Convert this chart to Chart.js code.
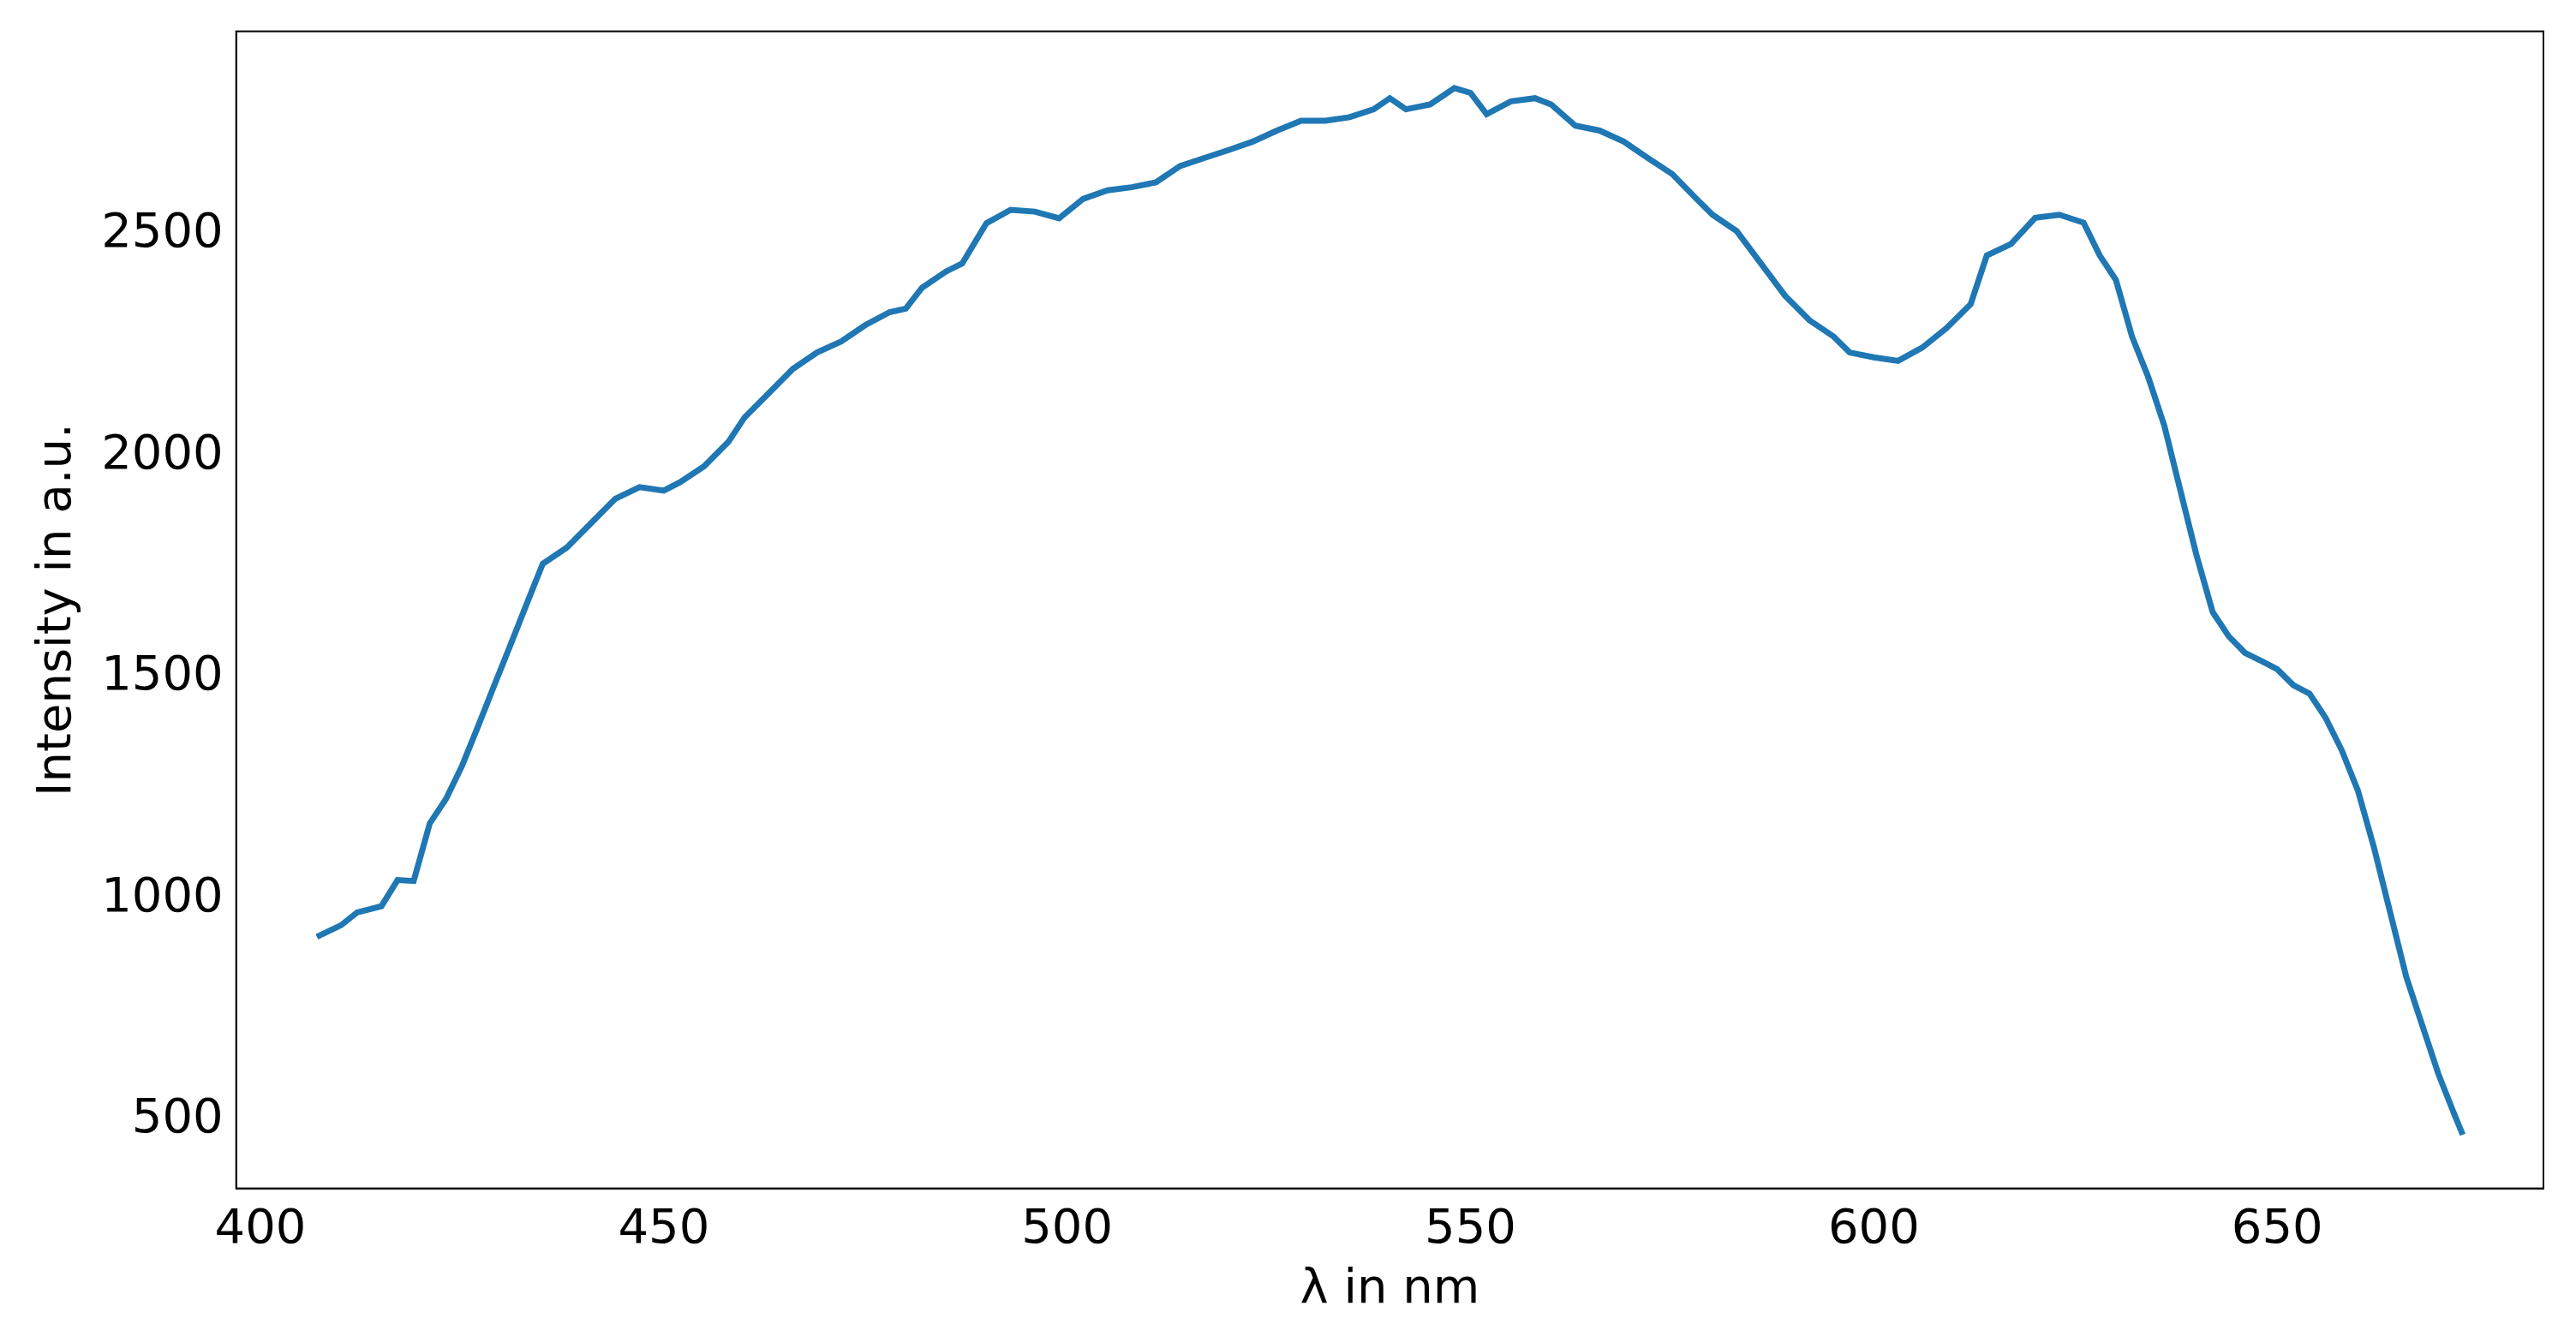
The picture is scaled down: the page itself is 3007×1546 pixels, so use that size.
<!DOCTYPE html>
<html>
<head>
<meta charset="utf-8">
<script src="https://cdn.jsdelivr.net/npm/chart.js@4/dist/chart.umd.min.js"></script>
<style>
  html, body { margin: 0; padding: 0; background: #fff; }
  #wrap { width: 3007px; height: 1546px; }
</style>
</head>
<body>
<div id="wrap"><canvas id="spectrum"></canvas></div>
<script>
document.addEventListener("DOMContentLoaded", function() {
    'use strict';

    // wavelength in nm
    var wavelengths = [407, 410, 412, 415, 417, 419, 421, 423, 425, 427, 429, 431, 433, 435, 438, 441, 444, 447, 450, 452,
        455, 458, 460, 463, 466, 469, 472, 475, 478, 480, 482, 485, 487, 490, 493, 496, 499, 502, 505, 508,
        511, 514, 517, 520, 523, 526, 529, 532, 535, 538, 540, 542, 545, 548, 550, 552, 555, 558, 560, 563,
        566, 569, 572, 575, 578, 580, 583, 586, 589, 592, 595, 597, 600, 603, 606, 609, 612, 614, 617, 620,
        623, 626, 628, 630, 632, 634, 636, 638, 640, 642, 644, 646, 648, 650, 652, 654, 656, 658, 660, 662,
        664, 666, 668, 670, 672, 673];
    var intensity = [914, 940, 969, 983, 1042, 1040, 1170, 1225, 1300, 1390, 1482, 1573, 1665, 1756, 1793, 1848, 1903, 1929, 1921, 1940,
        1976, 2031, 2086, 2141, 2196, 2233, 2258, 2295, 2324, 2332, 2379, 2416, 2434, 2525, 2555, 2551, 2536, 2580, 2599, 2606,
        2617, 2654, 2672, 2690, 2709, 2734, 2756, 2756, 2764, 2782, 2807, 2782, 2793, 2830, 2819, 2771, 2800, 2807, 2793, 2745,
        2734, 2709, 2672, 2636, 2580, 2544, 2507, 2434, 2361, 2306, 2269, 2233, 2222, 2214, 2244, 2288, 2342, 2452, 2478, 2537,
        2544, 2526, 2452, 2397, 2269, 2178, 2068, 1921, 1775, 1647, 1592, 1555, 1537, 1518, 1482, 1463, 1408, 1335, 1244, 1115,
        969, 823, 713, 603, 511, 467];
    var xTicks = [400, 450, 500, 550, 600, 650];
    var yTicks = [500, 1000, 1500, 2000, 2500];

    var points = wavelengths.map(function(x, i) {
        return { x: x, y: intensity[i] };
    });

    // top and right spines like matplotlib
    var frame = {
        id: 'frame',
        afterDraw: function(chart) {
            var a = chart.chartArea, ctx = chart.ctx;
            ctx.save();
            ctx.strokeStyle = '#000';
            ctx.lineWidth = 2;
            ctx.strokeRect(a.left, a.top, a.right - a.left, a.bottom - a.top);
            ctx.restore();
        }
    };

    function fixed(list) {
        return function(axis) {
            axis.ticks = list.map(function(v) { return { value: v }; });
        };
    }

    var font = { family: 'DejaVu Sans', size: 56 };

    new Chart(document.getElementById('spectrum').getContext('2d'), {
        type: 'scatter',
        data: {
            datasets: [{
                data: points,
                showLine: true,
                borderColor: '#1f77b4',
                borderWidth: 7,
                pointRadius: 0,
                tension: 0
            }]
        },
        options: {
            responsive: true,
            maintainAspectRatio: false,
            animation: false,
            layout: { padding: { top: 33, right: 38, left: 20, bottom: 6 } },
            plugins: { legend: { display: false }, tooltip: { enabled: false } },
            scales: {
                x: {
                    type: 'linear',
                    min: 397,
                    max: 683,
                    afterBuildTicks: fixed(xTicks),
                    grid: { display: false, drawTicks: true, tickLength: 12, tickColor: '#000' },
                    border: { color: '#000', width: 2 },
                    ticks: { color: '#000', font: font, maxRotation: 0, callback: function(v) { return String(v); } },
                    title: { display: true, text: 'λ in nm', color: '#000', font: font, padding: 0 }
                },
                y: {
                    min: 346,
                    max: 2958,
                    afterBuildTicks: fixed(yTicks),
                    grid: { display: false, drawTicks: true, tickLength: 12, tickColor: '#000' },
                    border: { color: '#000', width: 2 },
                    ticks: { color: '#000', font: font, callback: function(v) { return String(v); } },
                    title: { display: true, text: 'Intensity in a.u.', color: '#000', font: font, padding: 14 }
                }
            }
        },
        plugins: [frame]
    });
});
</script>
</body>
</html>
